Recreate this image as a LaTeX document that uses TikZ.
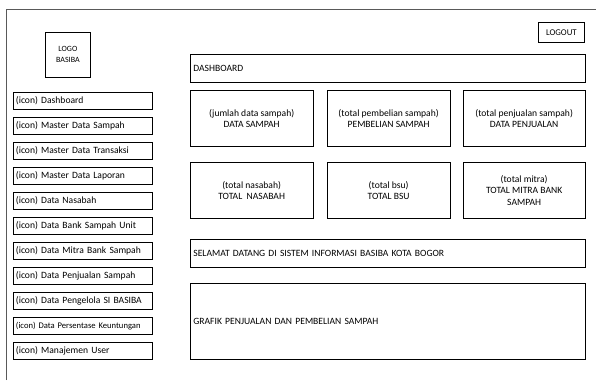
\documentclass[tikz,border=0pt]{standalone}
\usepackage{fontspec}
\setmainfont{Carlito}
\usetikzlibrary{positioning}

\tikzset{
    menubox/.style={rectangle, draw, line width=0.8pt, anchor=north west, minimum height=16.5pt,
        text width=133pt, inner xsep=3pt, inner ysep=0pt, align=left, font=\fontsize{9.6}{10}\selectfont},
    statbox/.style={rectangle, draw, line width=0.8pt, anchor=north west, minimum width=122.5pt,
        minimum height=56pt, align=center, font=\fontsize{9.6}{11.5}\selectfont},
    barbox/.style={rectangle, draw, line width=0.8pt, anchor=north west, minimum height=28pt,
        text width=389pt, inner xsep=3pt, inner ysep=0pt, align=left, font=\fontsize{9.6}{10}\selectfont}
}

\begin{document}
\begin{tikzpicture}[x=1pt, y=-1pt, node distance=7.7pt]
    \useasboundingbox (0,0) rectangle (596,380);

    % Page frame
    \draw[gray!70!black, line width=1pt] (6,380) -- (6,9) -- (596,9);

    % Logo and logout
    \node[rectangle, draw, line width=0.8pt, anchor=north west, minimum width=45pt, minimum height=45pt,
        align=center, font=\fontsize{8}{11}\selectfont] (logo) at (45,32) {LOGO\\BASIBA};
    \node[rectangle, draw, line width=0.8pt, anchor=north west, minimum width=46pt, minimum height=20pt,
        inner sep=0pt, font=\fontsize{8.8}{10}\selectfont] (logout) at (538,22) {LOGOUT};

    % Side menu
    \node[menubox] (mdash) at (12.5,92) {(icon) Dashboard};
    \node[menubox, below=of mdash.south west, anchor=north west] (msampah) {(icon) Master Data Sampah};
    \node[menubox, below=of msampah.south west, anchor=north west] (mtransaksi) {(icon) Master Data Transaksi};
    \node[menubox, below=of mtransaksi.south west, anchor=north west] (mlaporan) {(icon) Master Data Laporan};
    \node[menubox, below=of mlaporan.south west, anchor=north west] (mnasabah) {(icon) Data Nasabah};
    \node[menubox, below=of mnasabah.south west, anchor=north west] (mbsu) {(icon) Data Bank Sampah Unit};
    \node[menubox, below=of mbsu.south west, anchor=north west] (mmitra) {(icon) Data Mitra Bank Sampah};
    \node[menubox, below=of mmitra.south west, anchor=north west] (mpenjualan) {(icon) Data Penjualan Sampah};
    \node[menubox, below=of mpenjualan.south west, anchor=north west] (mpengelola) {(icon) Data Pengelola SI BASIBA};
    \node[menubox, below=of mpengelola.south west, anchor=north west, font=\fontsize{8.6}{10}\selectfont] (mpersentase) {(icon) Data Persentase Keuntungan};
    \node[menubox, below=of mpersentase.south west, anchor=north west] (muser) {(icon) Manajemen User};

    % Header bar
    \node[barbox] (dashbar) at (190,54) {DASHBOARD};

    % Summary boxes
    \node[statbox] (sampah) at (190,90) {(jumlah data sampah)\\DATA SAMPAH};
    \node[statbox] (pembelian) at (327,90) {(total pembelian sampah)\\PEMBELIAN SAMPAH};
    \node[statbox] (penjualan) at (462.5,90) {(total penjualan sampah)\\DATA PENJUALAN};
    \node[statbox] (nasabah) at (190,162) {(total nasabah)\\TOTAL\ \ NASABAH};
    \node[statbox] (bsu) at (327,162) {(total bsu)\\TOTAL BSU};
    \node[statbox] (mitra) at (462.5,162) {(total mitra)\\TOTAL MITRA BANK\\SAMPAH};

    % Welcome and chart
    \node[barbox] (welcome) at (190,239) {SELAMAT DATANG DI SISTEM INFORMASI BASIBA KOTA BOGOR};
    \node[barbox, minimum height=76pt] (grafik) at (190,283) {GRAFIK PENJUALAN DAN PEMBELIAN SAMPAH};
\end{tikzpicture}
\end{document}
